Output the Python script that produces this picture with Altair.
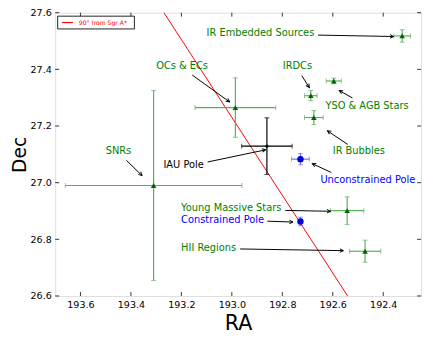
import math
import altair as alt
import pandas as pd

# ---- data ----
names = ["IR Embedded Sources", "YSO & AGB Stars", "IRDCs", "IR Bubbles", "OCs & ECs", "SNRs",
         "Young Massive Stars", "HII Regions", "IAU Pole", "Unconstrained Pole", "Constrained Pole"]
ra = [192.325, 192.596, 192.687, 192.675, 192.986, 193.310, 192.543, 192.472, 192.861, 192.728, 192.728]
dec = [27.518, 27.359, 27.307, 27.230, 27.265, 26.990, 26.901, 26.758, 27.129, 27.083, 26.863]
ra_err = [0.033, 0.030, 0.025, 0.037, 0.160, 0.350, 0.066, 0.062, 0.100, 0.035, 0.008]
dec_err = [0.022, 0.010, 0.018, 0.025, 0.105, 0.335, 0.049, 0.039, 0.100, 0.020, 0.015]
kind = ["green"] * 8 + ["black", "blue", "blue"]

# label anchor (left edge, middle) and arrow start/end, in data coordinates
label_ra = [193.100, 192.629, 192.798, 192.600, 193.300, 193.500, 193.201, 193.201, 193.271, 192.649, 193.201]
label_dec = [27.527, 27.269, 27.411, 27.110, 27.411, 27.110, 26.911, 26.770, 27.062, 27.010, 26.869]
arrow_ra0 = [192.658, 192.522, 192.723, 192.541, 193.157, 193.418, 192.788, 192.967, 193.096, 192.606, 192.859]
arrow_dec0 = [27.521, 27.299, 27.378, 27.135, 27.380, 27.079, 26.902, 26.766, 27.073, 27.036, 26.864]
arrow_ra1 = [192.359, 192.574, 192.693, 192.621, 193.009, 193.356, 192.609, 192.558, 192.866, 192.681, 192.758]
arrow_dec1 = [27.516, 27.325, 27.336, 27.183, 27.285, 27.025, 26.899, 26.760, 27.116, 27.067, 26.861]

line_ra = [193.269, 192.541]
line_dec = [27.6, 26.6]

x_ticks = [193.6, 193.4, 193.2, 193.0, 192.8, 192.6, 192.4]
y_ticks = [26.6, 26.8, 27.0, 27.2, 27.4, 27.6]

X_DOMAIN = [192.25, 193.7]
Y_DOMAIN = [26.6, 27.6]
W, H = 372, 288

text_color = {"green": "green", "black": "black", "blue": "blue"}
bar_color = {"green": "#5cad5c", "black": "black", "blue": "#6a6aff"}
marker_color = {"green": "#006400", "black": "black", "blue": "#0000dd"}

rows = []
for i, n in enumerate(names):
    px_dx = -(arrow_ra1[i] - arrow_ra0[i]) * W / (X_DOMAIN[1] - X_DOMAIN[0])
    px_dy = -(arrow_dec1[i] - arrow_dec0[i]) * H / (Y_DOMAIN[1] - Y_DOMAIN[0])
    ang = math.degrees(math.atan2(px_dx, -px_dy)) % 360
    rows.append(dict(name=n, ra=ra[i], dec=dec[i],
                     ra_lo=ra[i] - ra_err[i], ra_hi=ra[i] + ra_err[i],
                     dec_lo=dec[i] - dec_err[i], dec_hi=dec[i] + dec_err[i],
                     kind=kind[i], tcol=text_color[kind[i]], bcol=bar_color[kind[i]],
                     mcol=marker_color[kind[i]],
                     lra=label_ra[i], ldec=label_dec[i],
                     a0=arrow_ra0[i], d0=arrow_dec0[i], a1=arrow_ra1[i], d1=arrow_dec1[i],
                     ang=ang))
df = pd.DataFrame(rows)

xs = alt.Scale(domain=X_DOMAIN, reverse=True, nice=False, zero=False)
ys = alt.Scale(domain=Y_DOMAIN, nice=False, zero=False)
FONT = "DejaVu Sans"

x_axis = alt.Axis(values=x_ticks, format=".1f", ticks=False, domain=False, grid=False,
                  labelFont=FONT, labelFontSize=9.7, labelColor="black", labelPadding=4,
                  title="RA", titleFont=FONT, titleFontSize=21, titleFontWeight="normal",
                  titleColor="black", titlePadding=3)
y_axis = alt.Axis(values=y_ticks, format=".1f", ticks=False, domain=False, grid=False,
                  labelFont=FONT, labelFontSize=9.7, labelColor="black", labelPadding=4,
                  title="Dec", titleFont=FONT, titleFontSize=19, titleFontWeight="normal",
                  titleColor="black", titlePadding=1)


def X(f):
    return alt.X(f, type="quantitative", scale=xs, axis=x_axis)


def Y(f):
    return alt.Y(f, type="quantitative", scale=ys, axis=y_axis)


base = alt.Chart(df)

# red reference line
line_df = pd.DataFrame({"ra": line_ra, "dec": line_dec})
red_line = alt.Chart(line_df).mark_line(color="red", strokeWidth=1, clip=True).encode(
    x=X("ra"), y=Y("dec"))

# error bars
hbar = base.mark_rule(strokeWidth=1.2).encode(
    x=X("ra_lo"), x2="ra_hi", y=Y("dec"), color=alt.Color("bcol:N", scale=None))
vbar = base.mark_rule(strokeWidth=1.2).encode(
    x=X("ra"), y=Y("dec_lo"), y2="dec_hi", color=alt.Color("bcol:N", scale=None))
cap_l = base.mark_tick(orient="vertical", size=5, thickness=1).encode(
    x=X("ra_lo"), y=Y("dec"), color=alt.Color("bcol:N", scale=None))
cap_r = base.mark_tick(orient="vertical", size=5, thickness=1).encode(
    x=X("ra_hi"), y=Y("dec"), color=alt.Color("bcol:N", scale=None))
cap_b = base.mark_tick(orient="horizontal", size=5, thickness=1).encode(
    x=X("ra"), y=Y("dec_lo"), color=alt.Color("bcol:N", scale=None))
cap_t = base.mark_tick(orient="horizontal", size=5, thickness=1).encode(
    x=X("ra"), y=Y("dec_hi"), color=alt.Color("bcol:N", scale=None))

tri = alt.Chart(df[df.kind == "green"]).mark_point(shape="triangle-up", filled=True, size=32, opacity=1).encode(
    x=X("ra"), y=Y("dec"), color=alt.Color("mcol:N", scale=None))
circ = alt.Chart(df[df.kind == "blue"]).mark_point(shape="circle", filled=True, size=42, opacity=1).encode(
    x=X("ra"), y=Y("dec"), color=alt.Color("mcol:N", scale=None))
dot = alt.Chart(df[df.kind == "black"]).mark_point(shape="circle", filled=True, size=10, opacity=1).encode(
    x=X("ra"), y=Y("dec"), color=alt.Color("mcol:N", scale=None))

# annotations
arrow_line = base.mark_rule(color="black", strokeWidth=1).encode(
    x=X("a0"), x2="a1", y=Y("d0"), y2="d1")
arrow_head = base.mark_point(shape="M-0.5,1L0,0L0.5,1", filled=False, size=50, strokeWidth=1,
                             color="black", opacity=1).encode(
    x=X("a1"), y=Y("d1"), angle=alt.Angle("ang:Q", scale=None))
labels = base.mark_text(align="left", baseline="middle", font=FONT, fontSize=10).encode(
    x=X("lra"), y=Y("ldec"), text="name:N", color=alt.Color("tcol:N", scale=None))

# inward ticks on all four sides
xt = alt.Chart(pd.DataFrame({"t": x_ticks}))
yt = alt.Chart(pd.DataFrame({"t": y_ticks}))
tick_b = xt.mark_rule(color="#333", strokeWidth=1).encode(
    x=X("t"), y=alt.value(H), y2=alt.value(H - 4))
tick_t = xt.mark_rule(color="#333", strokeWidth=1).encode(
    x=X("t"), y=alt.value(0), y2=alt.value(4))
tick_l = yt.mark_rule(color="#333", strokeWidth=1).encode(
    y=Y("t"), x=alt.value(0), x2=alt.value(4))
tick_r = yt.mark_rule(color="#333", strokeWidth=1).encode(
    y=Y("t"), x=alt.value(W), x2=alt.value(W - 4))

# legend box
leg_df = pd.DataFrame({"label": ["90° from Sgr A*"]})
leg_box = alt.Chart(leg_df).mark_rect(fill="white", stroke="#222", strokeWidth=1).encode(
    x=alt.value(2.5), x2=alt.value(80.5), y=alt.value(3.5), y2=alt.value(16.5))
leg_line = alt.Chart(leg_df).mark_rule(color="red", strokeWidth=1.2).encode(
    x=alt.value(7), x2=alt.value(18), y=alt.value(10))
leg_text = alt.Chart(leg_df).mark_text(align="left", baseline="middle", font=FONT, fontSize=6.2,
                                       color="red").encode(
    x=alt.value(24), y=alt.value(10), text="label:N")

chart = alt.layer(
    red_line, hbar, vbar, cap_l, cap_r, cap_b, cap_t, tri, circ, dot,
    arrow_line, arrow_head, labels, tick_b, tick_t, tick_l, tick_r,
    leg_box, leg_line, leg_text,
).properties(
    width=W, height=H, autosize="none",
    padding={"left": 48, "top": 2, "right": 5, "bottom": 44},
).configure_view(stroke="#666", strokeWidth=2).configure(background="white")

chart.save("out.html", embed_options={"renderer": "svg", "actions": False})
